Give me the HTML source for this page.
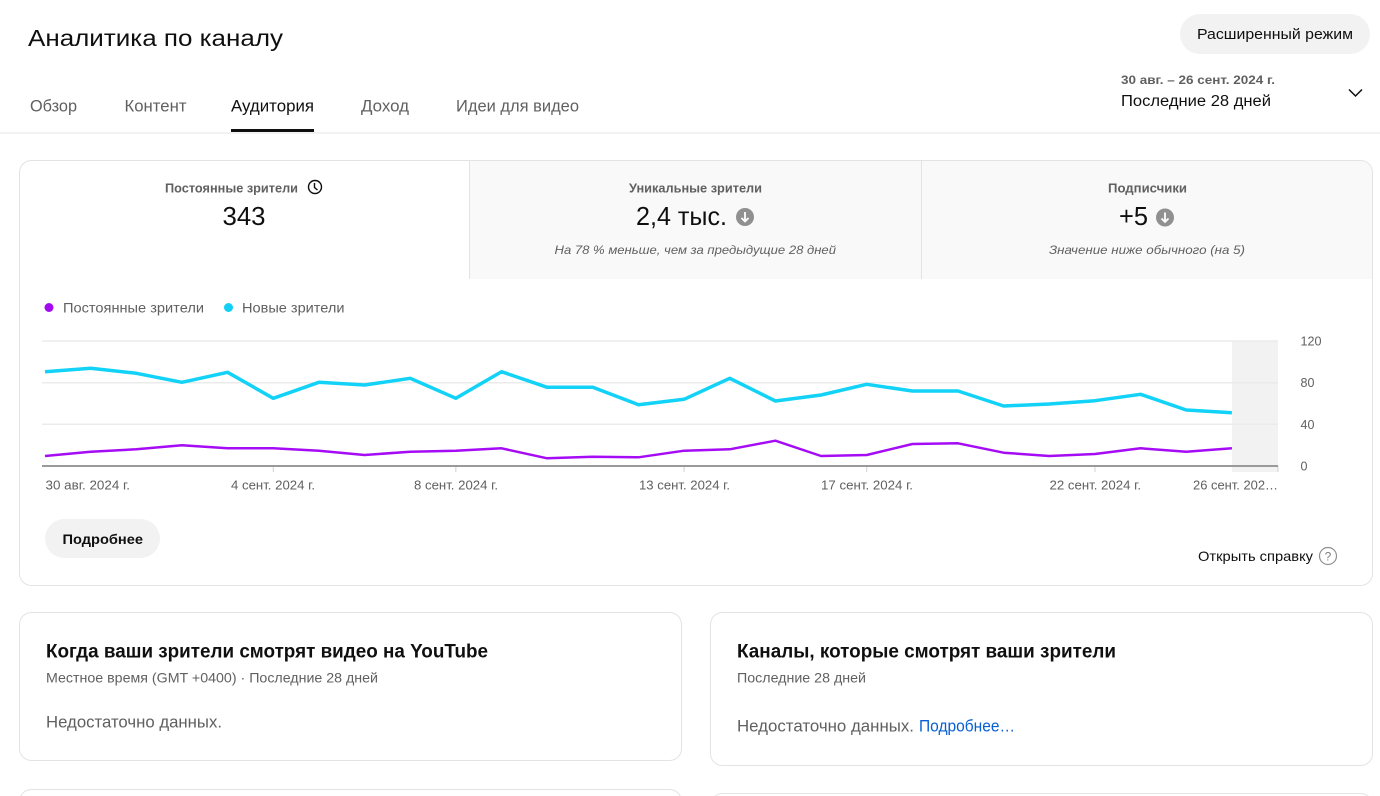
<!DOCTYPE html>
<html><head><meta charset="utf-8"><style>
html,body{margin:0;padding:0;background:#fff;width:1380px;height:796px;overflow:hidden}
svg{display:block}
text{font-family:"Liberation Sans","DejaVu Sans",sans-serif}
</style></head><body>
<svg width="1380" height="796" viewBox="0 0 1380 796" xmlns="http://www.w3.org/2000/svg">
<rect width="1380" height="796" fill="#fff"/>
<!-- Header -->
<text x="28" y="46" font-size="23" fill="#0f0f0f" textLength="255" lengthAdjust="spacingAndGlyphs">Аналитика по каналу</text>
<rect x="1180" y="14" width="190" height="40" rx="20" fill="#f2f2f2"/>
<text x="1197" y="39" font-size="14.5" fill="#0f0f0f" textLength="156" lengthAdjust="spacingAndGlyphs">Расширенный режим</text>
<text x="1121" y="84" font-size="12" font-weight="bold" fill="#606060" textLength="154" lengthAdjust="spacingAndGlyphs">30 авг. – 26 сент. 2024 г.</text>
<text x="1121" y="106" font-size="15.5" fill="#0f0f0f" textLength="150" lengthAdjust="spacingAndGlyphs">Последние 28 дней</text>
<polyline points="1349,89.5 1355.5,96 1362,89.5" fill="none" stroke="#0f0f0f" stroke-width="1.5"/>
<!-- Tabs -->
<text x="30" y="111.5" font-size="16.5" fill="#606060" textLength="47" lengthAdjust="spacingAndGlyphs">Обзор</text>
<text x="124.5" y="111.5" font-size="16.5" fill="#606060" textLength="62" lengthAdjust="spacingAndGlyphs">Контент</text>
<text x="231" y="111.5" font-size="16.5" fill="#0f0f0f" textLength="83" lengthAdjust="spacingAndGlyphs">Аудитория</text>
<text x="361" y="111.5" font-size="16.5" fill="#606060" textLength="48" lengthAdjust="spacingAndGlyphs">Доход</text>
<text x="456" y="111.5" font-size="16.5" fill="#606060" textLength="123" lengthAdjust="spacingAndGlyphs">Идеи для видео</text>
<rect x="231" y="129" width="83" height="3" fill="#0f0f0f"/>
<rect x="0" y="132.5" width="1380" height="1" fill="#e5e5e5"/>
<!-- Main card -->
<rect x="19.5" y="160.5" width="1353" height="425" rx="12" fill="#fff" stroke="#e3e3e3"/>
<path d="M470,161 H1360 A12,12 0 0 1 1372,173 V279 H470 Z" fill="#f9f9f9"/>
<line x1="469.5" y1="161" x2="469.5" y2="279" stroke="#e3e3e3"/>
<line x1="921.5" y1="161" x2="921.5" y2="279" stroke="#e3e3e3"/>
<!-- Metric 1 -->
<text x="165" y="192.5" font-size="12.5" font-weight="bold" fill="#606060" textLength="133" lengthAdjust="spacingAndGlyphs">Постоянные зрители</text>
<circle cx="315" cy="187" r="6.5" fill="none" stroke="#0f0f0f" stroke-width="1.4"/>
<path d="M314.5,183 V187.5 L317.5,190" fill="none" stroke="#0f0f0f" stroke-width="1.4"/>
<text x="222.5" y="225" font-size="26" fill="#0f0f0f" textLength="43" lengthAdjust="spacingAndGlyphs">343</text>
<!-- Metric 2 -->
<text x="629" y="192.5" font-size="12.5" font-weight="bold" fill="#606060" textLength="133" lengthAdjust="spacingAndGlyphs">Уникальные зрители</text>
<text x="636" y="225" font-size="26" fill="#0f0f0f" textLength="91" lengthAdjust="spacingAndGlyphs">2,4 тыс.</text>
<circle cx="745" cy="217" r="9" fill="#909090"/>
<path d="M745,212 V221.5 M741.5,218 L745,221.5 L748.5,218" fill="none" stroke="#fff" stroke-width="1.8"/>
<text x="554.5" y="254" font-size="12" font-style="italic" fill="#606060" textLength="281.5" lengthAdjust="spacingAndGlyphs">На 78 % меньше, чем за предыдущие 28 дней</text>
<!-- Metric 3 -->
<text x="1108" y="192.5" font-size="12.5" font-weight="bold" fill="#606060" textLength="79" lengthAdjust="spacingAndGlyphs">Подписчики</text>
<text x="1119" y="225" font-size="26" fill="#0f0f0f" textLength="29" lengthAdjust="spacingAndGlyphs">+5</text>
<circle cx="1165" cy="217.5" r="9" fill="#909090"/>
<path d="M1165,212.5 V222 M1161.5,218.5 L1165,222 L1168.5,218.5" fill="none" stroke="#fff" stroke-width="1.8"/>
<text x="1049" y="254" font-size="12" font-style="italic" fill="#606060" textLength="196" lengthAdjust="spacingAndGlyphs">Значение ниже обычного (на 5)</text>
<!-- Legend -->
<circle cx="49" cy="307.5" r="4.5" fill="#a20bf0"/>
<text x="63" y="312.5" font-size="13.5" fill="#606060" textLength="141" lengthAdjust="spacingAndGlyphs">Постоянные зрители</text>
<circle cx="228.5" cy="307.5" r="4.5" fill="#12d0f5"/>
<text x="242" y="312.5" font-size="13.5" fill="#606060" textLength="102.5" lengthAdjust="spacingAndGlyphs">Новые зрители</text>
<!-- Chart -->
<rect x="1232" y="341" width="46" height="131" fill="#f2f2f2"/>
<g stroke="#ebebeb" stroke-width="1.5">
<line x1="42" y1="341" x2="1278" y2="341"/>
<line x1="42" y1="382.7" x2="1278" y2="382.7"/>
<line x1="42" y1="424.3" x2="1278" y2="424.3"/>
</g>
<g stroke="#d0d0d0" stroke-width="1">
<line x1="273.25" y1="466" x2="273.25" y2="472"/>
<line x1="455.85" y1="466" x2="455.85" y2="472"/>
<line x1="684.1" y1="466" x2="684.1" y2="472"/>
<line x1="866.7" y1="466" x2="866.7" y2="472"/>
<line x1="1094.95" y1="466" x2="1094.95" y2="472"/>
<line x1="1278" y1="466" x2="1278" y2="472"/>
</g>
<line x1="42" y1="466" x2="1278" y2="466" stroke="#9a9a9a" stroke-width="2"/>
<polyline fill="none" stroke="#12d2f7" stroke-width="3.5" stroke-linejoin="round" points="45,371.7 90.65,368.3 136.3,373.3 181.95,382.3 227.6,372.3 273.25,398.3 318.9,382.3 364.55,385 410.2,378.3 455.85,398.3 501.5,371.7 547.15,387.3 592.8,387.3 638.45,404.7 684.1,399.3 729.75,378.3 775.4,401 821.05,395 866.7,384.3 912.35,391 958,391 1003.65,406 1049.3,404 1094.95,400.7 1140.6,394.3 1186.25,410 1231.9,412.7"/>
<polyline fill="none" stroke="#a50cf5" stroke-width="2.5" stroke-linejoin="round" points="45,456 90.65,451.7 136.3,449.3 181.95,445.3 227.6,448.3 273.25,448.3 318.9,450.7 364.55,455 410.2,451.7 455.85,450.7 501.5,448.3 547.15,458.3 592.8,456.7 638.45,457.3 684.1,450.7 729.75,449.3 775.4,440.7 821.05,456 866.7,455 912.35,444 958,443.3 1003.65,452.7 1049.3,456 1094.95,454 1140.6,448.3 1186.25,451.7 1231.9,448.3"/>
<!-- Y labels -->
<g font-size="12.5" fill="#606060">
<text x="1300.5" y="345.5" textLength="21" lengthAdjust="spacingAndGlyphs">120</text>
<text x="1300.5" y="387.2">80</text>
<text x="1300.5" y="428.8">40</text>
<text x="1300.5" y="470.5">0</text>
</g>
<!-- X labels -->
<g font-size="12.5" fill="#606060">
<text x="45.5" y="489.5" textLength="84.5" lengthAdjust="spacingAndGlyphs">30 авг. 2024 г.</text>
<text x="231" y="489.5" textLength="84" lengthAdjust="spacingAndGlyphs">4 сент. 2024 г.</text>
<text x="414" y="489.5" textLength="84" lengthAdjust="spacingAndGlyphs">8 сент. 2024 г.</text>
<text x="639" y="489.5" textLength="91" lengthAdjust="spacingAndGlyphs">13 сент. 2024 г.</text>
<text x="821" y="489.5" textLength="92" lengthAdjust="spacingAndGlyphs">17 сент. 2024 г.</text>
<text x="1049.5" y="489.5" textLength="91.5" lengthAdjust="spacingAndGlyphs">22 сент. 2024 г.</text>
<text x="1193" y="489.5" textLength="85" lengthAdjust="spacingAndGlyphs">26 сент. 202…</text>
</g>
<!-- Buttons -->
<rect x="45" y="519" width="115" height="39" rx="19.5" fill="#f2f2f2"/>
<text x="62.5" y="544" font-size="14" font-weight="bold" fill="#0f0f0f" textLength="80.5" lengthAdjust="spacingAndGlyphs">Подробнее</text>
<text x="1198" y="561" font-size="14" fill="#0f0f0f" textLength="115" lengthAdjust="spacingAndGlyphs">Открыть справку</text>
<circle cx="1328" cy="556" r="8.5" fill="none" stroke="#909090" stroke-width="1.2"/>
<text x="1328" y="560.5" font-size="12" fill="#808080" text-anchor="middle">?</text>
<!-- Card 2 -->
<rect x="19.5" y="612.5" width="662" height="148" rx="12" fill="#fff" stroke="#e3e3e3"/>
<text x="46" y="657.5" font-size="19.5" font-weight="bold" fill="#0f0f0f" textLength="442" lengthAdjust="spacingAndGlyphs">Когда ваши зрители смотрят видео на YouTube</text>
<text x="46" y="682.5" font-size="14" fill="#606060" textLength="332" lengthAdjust="spacingAndGlyphs">Местное время (GMT +0400) · Последние 28 дней</text>
<text x="46" y="727.5" font-size="16.5" fill="#606060" textLength="176" lengthAdjust="spacingAndGlyphs">Недостаточно данных.</text>
<!-- Card 3 -->
<rect x="710.5" y="612.5" width="662" height="153" rx="12" fill="#fff" stroke="#e3e3e3"/>
<text x="737" y="657.5" font-size="19.5" font-weight="bold" fill="#0f0f0f" textLength="379" lengthAdjust="spacingAndGlyphs">Каналы, которые смотрят ваши зрители</text>
<text x="737" y="682.5" font-size="14" fill="#606060" textLength="129" lengthAdjust="spacingAndGlyphs">Последние 28 дней</text>
<text x="737" y="731.5" font-size="16.5" fill="#606060" textLength="177" lengthAdjust="spacingAndGlyphs">Недостаточно данных.</text>
<text x="919" y="731.5" font-size="16.5" fill="#065fd4" textLength="96" lengthAdjust="spacingAndGlyphs">Подробнее…</text>
<!-- Bottom partial cards -->
<rect x="19.5" y="789.5" width="662" height="40" rx="12" fill="#fff" stroke="#e3e3e3"/>
<rect x="710.5" y="793.5" width="662" height="40" rx="12" fill="#fff" stroke="#e3e3e3"/>
</svg>
</body></html>
